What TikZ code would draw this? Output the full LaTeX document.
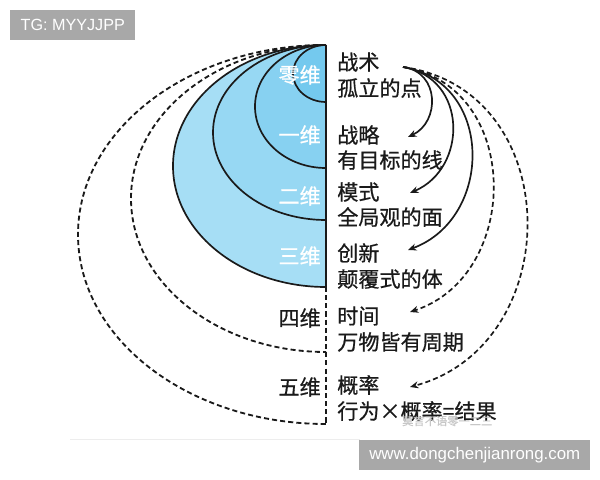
\documentclass[tikz,border=0pt]{standalone}
\usepackage{fontspec}
\setmainfont{Liberation Sans}
\newfontfamily\cjk[FakeBold=0.7]{Noto Sans CJK SC}
\usetikzlibrary{positioning}
\usetikzlibrary{arrows.meta}

\definecolor{capa0}{HTML}{74C9EE}
\definecolor{capa1}{HTML}{87D1F1}
\definecolor{capa2}{HTML}{97D8F3}
\definecolor{capa3}{HTML}{A6DEF5}
\definecolor{tinta}{HTML}{1A1A1A}
\definecolor{marca}{HTML}{A8A8A8}

\begin{document}
\begin{tikzpicture}[x=0.025cm, y=-0.025cm,
    texto/.style={font=\cjk\fontsize{15}{18}\selectfont, text=tinta, inner sep=0pt, anchor=west},
    dim/.style={font=\cjk\fontsize{15}{18}\selectfont, inner sep=0pt, anchor=east},
    borde/.style={draw=tinta, line width=1.2pt},
    punteado/.style={draw=tinta, line width=1.3pt, dash pattern=on 3.6pt off 2.2pt},
    flecha/.style={-{Stealth[length=6pt, width=5pt]}, line width=1.2pt, tinta},
    caja/.style={fill=marca, text=white, inner sep=0pt, minimum height=30*0.025cm}]
\useasboundingbox (0,0) rectangle (600,480);

% Capas azules (de fuera hacia dentro)
\fill[capa3] (326,45) arc[start angle=270, end angle=90, x radius=153, y radius=121] -- cycle;
\fill[capa2] (326,45) arc[start angle=270, end angle=90, x radius=113, y radius=87.5] -- cycle;
\fill[capa1] (326,45) arc[start angle=270, end angle=90, x radius=71, y radius=61.5] -- cycle;
\fill[capa0] (326,45) arc[start angle=270, end angle=90, x radius=33, y radius=28.5] -- cycle;

% Contornos
\coordinate (cima) at (326,45);
\draw[borde] (cima) arc[start angle=270, end angle=90, x radius=153, y radius=121] coordinate (fin3);
\draw[borde] (cima) arc[start angle=270, end angle=90, x radius=113, y radius=87.5];
\draw[borde] (cima) arc[start angle=270, end angle=90, x radius=71, y radius=61.5];
\draw[borde] (cima) arc[start angle=270, end angle=90, x radius=33, y radius=28.5];
\draw[punteado] (cima) arc[start angle=270, end angle=90, x radius=195, y radius=153.5];
\draw[punteado] (cima) arc[start angle=270, end angle=90, x radius=248, y radius=189.5] coordinate (fin5);
\draw[borde] (cima) -- (fin3);
\draw[punteado] (fin3) -- (fin5);

% Dimensiones
\foreach \nombre/\y/\col/\txt in {d0/75/white/零维, d1/135/white/一维, d2/196/white/二维,
    d3/256/white/三维, d4/318/tinta/四维, d5/387/tinta/五维}
  \node[dim, text=\col] (\nombre) at (321,\y) {\txt};

% Textos de la derecha
\node[texto] (zhanshu) at (337,62) {战术};
\node[texto] (gulidedian) at (337,88) {孤立的点};
\node[texto] (zhanlue) at (337,135) {战略};
\node[texto] (youmubiao) at (337,160) {有目标的线};
\node[texto] (moshi) at (337,192) {模式};
\node[texto] (quanju) at (337,217) {全局观的面};
\node[texto] (chuangxin) at (337,253) {创新};
\node[texto] (dianfu) at (337,279) {颠覆式的体};
\node[texto] (shijian) at (337,316) {时间};
\node[texto] (wanwu) at (337,342) {万物皆有周期};
\node[texto] (gailv) at (337,385) {概率};
\node[texto] (xingwei) at (337,411) {行为×概率=结果};

% Flechas
\coordinate (src) at (403,67);
\coordinate (t1) at (408,137);
\coordinate (t2) at (410,193);
\coordinate (t3) at (408,250);
\coordinate (t4) at (410,312);
\coordinate (t5) at (410,387);
\draw[flecha] (src) .. controls (440,72) and (440,122) .. (t1);
\draw[flecha] (src) .. controls (468,78) and (468,168) .. (t2);
\draw[flecha] (src) .. controls (494,82) and (494,218) .. (t3);
\draw[flecha, dash pattern=on 3.6pt off 2.2pt] (src) .. controls (522,86) and (522,275) .. (t4);
\draw[flecha, dash pattern=on 3.6pt off 2.2pt] (src) .. controls (567,90) and (567,345) .. (t5);

% Marcas de agua
\draw[black!7, line width=0.6pt] (70,439) -- (360,439);
\node[font=\cjk\fontsize{8}{9}\selectfont, text=black!22, anchor=west, inner sep=0pt] (wm) at (402,421) {莫言不语零一二三};
\node[caja, anchor=north west, minimum width=125*0.025cm, font=\fontsize{11.5}{13}\selectfont] (tg) at (10,10) {TG: MYYJJPP};
\node[caja, anchor=north west, minimum width=231*0.025cm, font=\fontsize{12}{14}\selectfont] (web) at (359,440) {www.dongchenjianrong.com};
\end{tikzpicture}
\end{document}
